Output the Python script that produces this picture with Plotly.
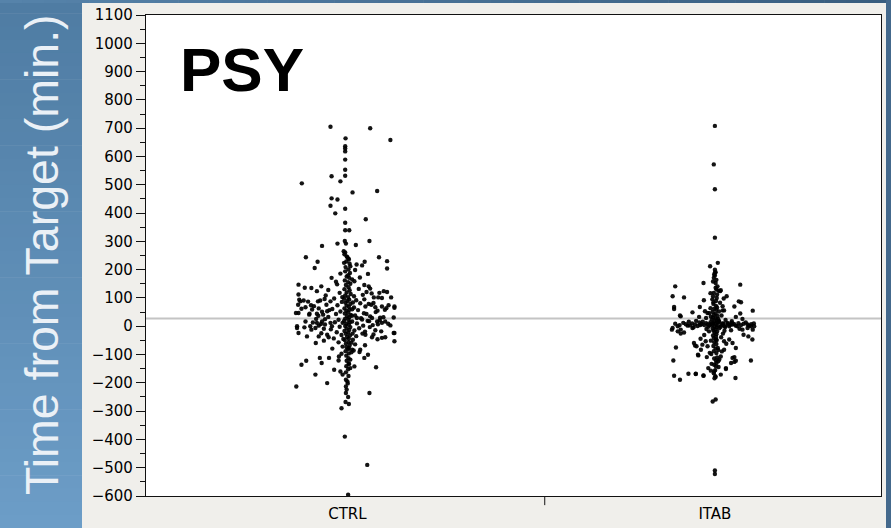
import plotly.graph_objects as go

# Groups on the x axis
groups = ["CTRL", "ITAB"]

# Reference line drawn across the panel (minutes)
target_line = 27

# CTRL observations: (minutes from target, horizontal jitter)
ctrl_points = [
    (705, -0.046), (700, 0.062), (664, -0.005), (658, 0.117), (636, -0.006), (628, -0.006),
    (618, -0.006), (589, -0.006), (553, -0.006), (532, -0.006), (530, -0.043), (512, -0.019),
    (505, -0.124), (473, 0.014), (478, 0.081), (452, -0.043), (448, -0.027), (426, -0.046),
    (415, -0.006), (399, -0.033), (378, 0.05), (366, -0.006), (339, -0.006), (339, 0.005),
    (301, 0.06), (292, -0.027), (301, -0.007), (284, -0.069), (292, -0.004), (287, 0.023),
    (265, -0.01), (261, -0.006), (254, -0.008), (244, -0.113), (244, 0.086), (244, 0.0),
    (228, -0.081), (206, -0.089), (247, -0.002), (239, 0.003), (224, -0.009), (212, 0.008),
    (218, 0.025), (215, 0.04), (228, 0.047), (230, 0.108), (204, 0.108), (185, 0.056),
    (171, -0.043), (180, 0.002), (165, 0.013), (159, 0.019), (147, -0.133), (136, -0.116),
    (141, -0.071), (124, -0.083), (141, 0.058), (133, 0.062), (124, 0.099), (121, 0.108),
    (121, 0.052), (102, 0.072), (102, 0.084), (100, 0.094), (102, 0.119), (94, -0.131),
    (91, -0.119), (88, -0.08), (91, -0.074), (76, -0.057), (88, -0.046), (70, 0.049),
    (76, 0.065), (67, 0.076), (70, 0.094), (74, 0.112), (65, 0.128), (76, -0.134),
    (62, -0.125), (67, -0.114), (74, -0.099), (59, -0.096), (47, -0.133), (41, -0.104),
    (44, -0.083), (51, -0.069), (53, -0.055), (0, -0.137), (17, -0.114), (12, -0.083),
    (0, -0.101), (-6, -0.087), (17, -0.069), (12, -0.046), (0, -0.042), (17, 0.013),
    (29, 0.026), (24, 0.04), (29, 0.067), (17, 0.081), (12, 0.094), (17, 0.103),
    (3, 0.117), (31, 0.126), (112, -0.133), (88, -0.128), (47, -0.14), (70, 0.128),
    (-24, 0.128), (-53, 0.128),
    (-6, -0.137), (-24, -0.133), (-36, -0.11), (-36, -0.078), (-30, -0.055), (-39, -0.051),
    (-30, 0.049), (-39, 0.067), (-41, 0.094), (-39, 0.103), (-24, 0.126), (-59, -0.086),
    (-77, 0.004), (-83, 0.013), (-83, 0.035), (-91, 0.033), (-101, 0.056), (-112, 0.046),
    (-107, -0.023), (-112, -0.05), (-112, -0.075), (-130, -0.07), (-122, -0.112), (-136, -0.125),
    (-118, 0.008), (-134, 0.004), (-148, 0.008), (-145, 0.078), (-154, -0.036), (-160, -0.019),
    (-171, -0.013), (-171, -0.087), (-201, -0.055), (-213, -0.139), (-236, 0.06), (-189, -0.004),
    (-195, 0.0), (-213, -0.004), (-236, -0.004), (-268, -0.005), (-275, 0.004), (-290, -0.016),
    (-390, -0.007), (-490, 0.054), (-595, 0.002),
    # dense central column
    (236, 0.004), (229, -0.003), (221, 0.006), (209, -0.005), (201, 0.003), (194, -0.006),
    (188, 0.007), (176, -0.002), (171, 0.005), (162, -0.007), (156, 0.002), (150, 0.008),
    (146, -0.004), (138, 0.003), (131, -0.008), (127, 0.006), (119, -0.002), (114, 0.009),
    (109, -0.006), (103, 0.002), (97, -0.009), (94, 0.005), (89, 0.0), (83, -0.005),
    (79, 0.008), (73, -0.002), (69, 0.004), (63, -0.008), (58, 0.006), (55, -0.003),
    (49, 0.002), (45, -0.007), (40, 0.009), (36, -0.001), (31, 0.005), (27, -0.006),
    (22, 0.003), (19, -0.009), (14, 0.007), (9, -0.003), (5, 0.004), (1, -0.006),
    (-3, 0.008), (-8, -0.002), (-13, 0.005), (-17, -0.008), (-22, 0.002), (-27, -0.004),
    (-33, 0.007), (-38, -0.001), (-44, 0.004), (-49, -0.007), (-56, 0.003), (-62, -0.004),
    (-68, 0.006), (-74, -0.002), (-81, 0.002), (-88, -0.005), (-96, 0.004), (-104, -0.003),
    (-113, 0.003), (-122, -0.002), (-131, 0.004), (-141, -0.003), (-152, 0.002), (-163, -0.004),
    (-176, 0.003), (-202, 0.001), (-224, -0.002), (-250, 0.002),
    (60, 0.013), (84, 0.015), (103, -0.014), (37, 0.012), (12, -0.013), (-26, 0.014),
    (-92, 0.011), (-58, 0.011), (-45, -0.011), (199, 0.021), (186, -0.019), (172, 0.034),
    # central cloud
    (148, -0.028), (132, 0.031), (118, -0.021), (111, 0.042), (98, -0.036), (92, 0.024),
    (86, -0.015), (81, 0.035), (74, -0.027), (66, 0.018), (61, -0.041), (57, 0.029),
    (52, -0.019), (46, 0.045), (43, -0.031), (38, 0.021), (33, -0.052), (28, 0.037),
    (23, -0.024), (19, 0.055), (14, -0.034), (10, 0.026), (6, -0.061), (2, 0.043),
    (-2, -0.021), (-7, 0.032), (-11, -0.045), (-15, 0.019), (-21, -0.029), (-26, 0.041),
    (-31, -0.016), (-35, 0.024), (-43, -0.037), (-48, 0.015), (-57, -0.024), (-64, 0.021),
    (-72, -0.013), (-86, 0.017), (-97, -0.016), (116, 0.066), (96, -0.062), (82, 0.071),
    (63, -0.078), (55, 0.082), (41, -0.066), (35, 0.062), (26, -0.085), (21, 0.088),
    (8, -0.072), (4, 0.069), (-9, -0.064), (-14, 0.076), (-19, 0.048), (58, 0.102),
    (44, -0.103), (32, 0.098), (9, 0.111), (-4, -0.117), (128, -0.052), (106, 0.018),
    (135, -0.098), (118, 0.087), (109, -0.059), (95, 0.046), (87, -0.107), (79, 0.058),
    (71, -0.091), (64, 0.106), (57, -0.049), (50, 0.077), (43, 0.052), (37, -0.079),
    (30, 0.089), (25, -0.061), (18, 0.059), (13, -0.094), (7, 0.083), (2, -0.078),
    (-3, 0.061), (-12, -0.098), (-18, 0.092), (-25, -0.071), (-29, 0.071), (-46, 0.082),
    (-51, -0.064), (-67, 0.048), (-79, -0.041), (157, -0.031), (146, 0.046), (-142, 0.019),
    (-121, -0.024),
]

# ITAB observations: (minutes from target, horizontal jitter)
itab_points = [
    (708, 0.0), (572, -0.003), (484, 0.0), (313, 0.0), (224, 0.008), (212, -0.013),
    (200, 0.0), (189, 0.0), (179, 0.0), (191, 0.002), (183, -0.002), (141, -0.108),
    (153, -0.031), (147, 0.069), (153, 0.002), (141, 0.007), (126, 0.01), (124, 0.014),
    (130, 0.004), (127, 0.016), (106, -0.115), (102, -0.084), (106, 0.032), (106, -0.005),
    (100, 0.005), (85, -0.004), (72, 0.003), (92, -0.03), (83, 0.014), (88, 0.065),
    (85, 0.071), (68, -0.111), (61, -0.111), (68, -0.041), (70, 0.053), (56, 0.025),
    (56, 0.021), (49, -0.061), (53, -0.027), (47, -0.02), (45, 0.069), (55, 0.103),
    (35, -0.093), (33, -0.043), (33, 0.057), (26, 0.075), (38, -0.095),
    (-6, -0.115), (0, -0.101), (-12, -0.093), (2, -0.074), (-6, -0.061), (0, 0.039),
    (6, 0.048), (0, 0.061), (-12, 0.075), (6, 0.089), (0, 0.098), (-12, 0.103),
    (-30, 0.078), (-36, 0.091), (-12, -0.117), (-18, -0.101), (-26, -0.093), (-22, -0.084),
    (-6, 0.089), (0, 0.107), (-47, 0.102),
    (-75, -0.106), (-121, -0.113), (-121, 0.098), (-175, -0.111), (-189, -0.095), (-168, -0.072),
    (-168, -0.052), (-175, -0.031), (-183, 0.056), (-177, 0.001), (-171, 0.016), (-151, 0.03),
    (-266, -0.006), (-259, 0.002), (-510, 0.0), (-522, 0.0),
    (-71, -0.05), (-83, -0.038), (-71, -0.02), (-77, 0.008), (-101, -0.046), (-118, 0.012),
    (-107, 0.016), (-109, 0.053), (-122, 0.057), (-77, 0.057), (-47, 0.003), (-53, 0.025),
    (-47, 0.039), (-59, 0.048), (-59, -0.057), (-65, -0.034), (-53, -0.025), (-68, -0.054),
    (-103, -0.045), (-109, -0.022), (-83, 0.025), (-110, 0.006), (-124, 0.009), (-130, 0.004),
    (-148, 0.03), (-112, 0.048), (-126, 0.053), (-130, 0.044), (-148, -0.018), (-157, -0.011),
    (-160, -0.002), (-169, -0.052), (-174, -0.031),
    # dense central column
    (171, -0.003), (164, 0.004), (158, -0.005), (136, 0.002), (118, -0.003), (112, 0.006),
    (95, -0.007), (89, 0.003), (79, -0.004), (66, 0.006), (62, -0.002), (58, 0.004),
    (51, -0.006), (44, 0.002), (40, -0.003), (36, 0.007), (31, -0.005), (28, 0.002),
    (24, -0.008), (21, 0.005), (17, -0.002), (14, 0.008), (11, -0.004), (8, 0.003),
    (5, -0.007), (3, 0.006), (-1, -0.002), (-4, 0.005), (-8, -0.006), (-11, 0.002),
    (-15, -0.004), (-19, 0.006), (-23, -0.001), (-28, 0.004), (-33, -0.005), (-38, 0.003),
    (-42, -0.003), (-49, 0.005), (-56, -0.002), (-63, 0.004), (-70, -0.004), (-79, 0.002),
    (-88, -0.003), (-95, 0.004), (-114, -0.002), (-121, 0.003), (-136, -0.002), (-142, 0.003),
    (-155, 0.001), (-166, -0.003), (-179, 0.002), (-184, -0.001),
    (19, 0.011), (14, -0.012), (26, 0.009), (3, -0.014), (-7, 0.012), (-2, 0.016),
    (6, -0.019), (10, 0.021), (-10, -0.023), (0, 0.027), (52, 0.011), (-51, -0.011),
    (-84, 0.009), (-98, -0.01), (-133, -0.009), (-144, 0.01), (34, -0.011),
    # horizontal band near the target
    (9, -0.108), (4, -0.096), (12, -0.086), (7, -0.079), (3, -0.068), (10, -0.062),
    (6, -0.054), (1, -0.047), (13, -0.042), (8, -0.036), (4, -0.029), (11, -0.024),
    (-2, -0.018), (7, -0.012), (15, 0.012), (3, 0.017), (9, 0.023), (-3, 0.028),
    (12, 0.034), (5, 0.041), (8, 0.052), (2, 0.057), (11, 0.064), (4, 0.071),
    (9, 0.078), (13, 0.084), (2, 0.093), (7, 0.099), (10, 0.106), (16, -0.071),
    (18, 0.046), (-4, -0.058), (-9, 0.067), (16, -0.033), (8, 0.035), (4, -0.04),
    (12, 0.045), (-16, 0.026),
    # cloud around the column
    (46, -0.015), (38, 0.018), (29, -0.024), (22, 0.029), (-18, -0.016), (-26, 0.022),
    (-31, -0.029), (-39, 0.017), (64, -0.012), (71, 0.021), (-89, 0.019), (-94, -0.014),
    (117, -0.012), (98, 0.024), (-62, 0.031), (-44, -0.039), (19, -0.051), (-14, 0.044),
]

ctrl_values = [v for v, _ in ctrl_points]
ctrl_jitter = [j for _, j in ctrl_points]
itab_values = [v for v, _ in itab_points]
itab_jitter = [j for _, j in itab_points]

# ---- figure geometry (pixels) ----
W, H = 891, 528
ML, MR, MT, MB = 146, 10, 15, 32
PW, PH = W - ML - MR, H - MT - MB


def xp(px):
    return (px - ML) / PW


def yp(py):
    return (H - MB - py) / PH


def mix(c1, c2, t):
    a = [int(c1[i:i + 2], 16) for i in (1, 3, 5)]
    b = [int(c2[i:i + 2], 16) for i in (1, 3, 5)]
    return "#%02x%02x%02x" % tuple(round(a[k] + (b[k] - a[k]) * t) for k in range(3))


fig = go.Figure()

marker = dict(size=4.4, color="#000000", opacity=0.92, line=dict(width=0))
fig.add_trace(go.Scatter(
    x=[0 + j for j in ctrl_jitter], y=ctrl_values, mode="markers",
    marker=marker, name=groups[0], hoverinfo="y",
))
fig.add_trace(go.Scatter(
    x=[1 + j for j in itab_jitter], y=itab_values, mode="markers",
    marker=marker, name=groups[1], hoverinfo="y",
))

shapes = []
# blue side panel with a vertical gradient
n = 40
for i in range(n):
    y0 = H * i / n
    y1 = H * (i + 1) / n + 0.6
    shapes.append(dict(
        type="rect", xref="paper", yref="paper",
        x0=xp(0), x1=xp(82), y0=yp(y1), y1=yp(y0),
        fillcolor=mix("#4f7ca3", "#6c9dc7", i / (n - 1)), line=dict(width=0), layer="below",
    ))
# thin top band with a horizontal gradient
for i in range(n):
    x0 = W * i / n
    x1 = W * (i + 1) / n + 0.6
    shapes.append(dict(
        type="rect", xref="paper", yref="paper",
        x0=xp(x0), x1=xp(x1), y0=yp(3), y1=yp(0),
        fillcolor=mix("#5683aa", "#385d7f", i / (n - 1)), line=dict(width=0), layer="below",
    ))
# thin right band
shapes.append(dict(
    type="rect", xref="paper", yref="paper",
    x0=xp(886), x1=xp(W + 1), y0=yp(H), y1=yp(0),
    fillcolor="#44698c", line=dict(width=0), layer="below",
))
# reference line
shapes.append(dict(
    type="line", xref="paper", yref="y", x0=0, x1=1, y0=target_line, y1=target_line,
    line=dict(color="#c4c4c4", width=2), layer="below",
))
# divider tick between groups
shapes.append(dict(
    type="line", xref="x", yref="paper", x0=0.537, x1=0.537, y0=0, y1=-0.019,
    line=dict(color="#111111", width=1),
))

fig.update_layout(
    width=W, height=H,
    margin=dict(l=ML, r=MR, t=MT, b=MB, autoexpand=False),
    paper_bgcolor="#f0efeb",
    plot_bgcolor="#ffffff",
    showlegend=False,
    shapes=shapes,
    annotations=[
        dict(
            text="Time from Target (min.)", textangle=-90,
            xref="paper", yref="paper", x=xp(42), y=yp(255),
            xanchor="center", yanchor="middle", showarrow=False,
            font=dict(family="Liberation Sans, Arial, sans-serif", size=46.5, color="#eaf0f6"),
        ),
        dict(
            text="<b>PSY</b>",
            xref="paper", yref="paper", x=xp(178), y=yp(70),
            xanchor="left", yanchor="middle", showarrow=False,
            font=dict(family="Liberation Sans, Arial, sans-serif", size=62, color="#000000"),
        ),
    ],
)

fig.update_xaxes(
    range=[-0.548, 1.452], automargin=False,
    tickvals=[0, 1], ticktext=groups,
    ticks="outside", ticklen=4, tickcolor="rgba(0,0,0,0)",
    showgrid=False, zeroline=False,
    showline=True, linecolor="#111111", linewidth=1.2, mirror=True,
    tickfont=dict(family="DejaVu Sans, sans-serif", size=15, color="#000000"),
)
fig.update_yaxes(
    range=[-600, 1100], dtick=100, tick0=0, automargin=False,
    ticks="outside", ticklen=9, tickcolor="#111111", tickwidth=1,
    minor=dict(dtick=50, ticks="outside", ticklen=5, tickcolor="#111111", showgrid=False),
    showgrid=False, zeroline=False,
    showline=True, linecolor="#111111", linewidth=1.2, mirror=True,
    tickfont=dict(family="DejaVu Sans, sans-serif", size=15, color="#000000"),
)

fig.write_html("out.html")
